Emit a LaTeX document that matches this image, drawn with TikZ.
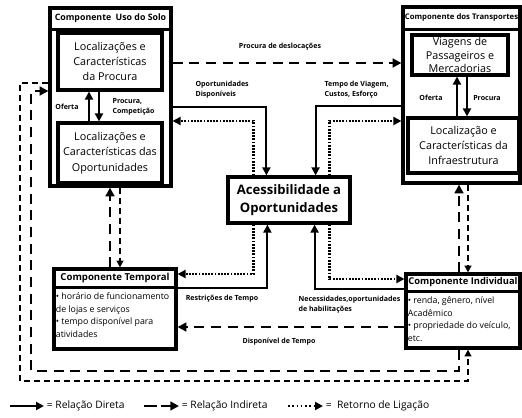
\documentclass[tikz,border=0pt]{standalone}
\usepackage{fontspec}
\setmainfont{Open Sans}
\usetikzlibrary{arrows.meta,calc}

\begin{document}
\begin{tikzpicture}[
  x=0.75pt, y=-0.75pt,
  font=\fontsize{8.1}{11.4}\selectfont,
  outerbox/.style={
    rectangle, draw=black, fill=white,
    line width=2.4pt, inner sep=0pt
  },
  innerbox/.style={
    rectangle, draw=black,
    line width=2.4pt, align=center, inner sep=1pt
  },
  titlebox/.style={
    rectangle, draw=black, line width=1.6pt, inner sep=0pt,
    font=\bfseries\fontsize{6.6}{7.5}\selectfont
  },
  hub/.style={
    rectangle, draw=black, fill=white,
    line width=2.4pt, align=center,
    font=\bfseries\fontsize{9.8}{14}\selectfont
  },
  bodytext/.style={align=left, inner sep=2pt, font=\fontsize{6.6}{9.4}\selectfont},
  lbl/.style={align=left, inner sep=1pt, font=\bfseries\fontsize{5.3}{7.6}\selectfont},
  keytext/.style={anchor=west, inner sep=2pt, font=\fontsize{7.7}{9}\selectfont},
  dir/.style={-{Triangle[length=6pt,width=6pt]}, line width=1.6pt},
  indir/.style={-{Triangle[length=6.5pt,width=6.5pt]}, line width=2.2pt, dash pattern=on 7.5pt off 5pt},
  thinind/.style={-{Triangle[length=5pt,width=5pt]}, line width=1.2pt, dash pattern=on 4.5pt off 3pt},
  ret/.style={-{Triangle[length=6pt,width=6pt]}, line width=1.8pt, dash pattern=on 1.4pt off 1pt}
]
\fill[white] (0,0) rectangle (522,418);

\node[outerbox, minimum width=121*0.75pt, minimum height=178*0.75pt] (lu) at (110.5,97) {};
\node[titlebox, minimum width=121*0.75pt, minimum height=22*0.75pt, anchor=north] (luT) at (lu.north)
  {Componente\enspace Uso do Solo};
\node[innerbox, minimum width=104*0.75pt, minimum height=57*0.75pt] (dem) at (110,61.5)
  {Localizações e\\Características\\da Procura};
\node[innerbox, minimum width=104*0.75pt, minimum height=60*0.75pt] (opp) at (110,153)
  {Localizações e\\Características das\\Oportunidades};

\node[outerbox, minimum width=117*0.75pt, minimum height=176*0.75pt] (tr) at (461.5,95) {};
\node[titlebox, minimum width=117*0.75pt, minimum height=23*0.75pt, anchor=north,
  font=\bfseries\fontsize{5.8}{7}\selectfont] (trT) at (tr.north)
  {Componente dos Transportes};
\node[innerbox, minimum width=96*0.75pt, minimum height=40*0.75pt, font=\fontsize{8.1}{9.8}\selectfont] (trips) at (460,55)
  {Viagens de\\Passageiros e\\Mercadorias};
\node[innerbox, minimum width=111*0.75pt, minimum height=55*0.75pt] (infra) at (463.5,145.5)
  {Localização e\\Características da\\Infraestrutura};

\node[hub, minimum width=122*0.75pt, minimum height=46*0.75pt] (acc) at (289,200)
  {Acessibilidade a\\Oportunidades};

\node[outerbox, minimum width=122*0.75pt, minimum height=80*0.75pt] (tem) at (115,309) {};
\node[titlebox, minimum width=122*0.75pt, minimum height=19*0.75pt, anchor=north,
  font=\bfseries\fontsize{7.2}{8}\selectfont] (temT) at (tem.north) {Componente Temporal};
\node[bodytext, anchor=north west] (temB) at ([yshift=-1pt]temT.south west)
  {• horário de funcionamento\\de lojas e serviços\\• tempo disponível para\\atividades};

\node[outerbox, minimum width=114*0.75pt, minimum height=74*0.75pt] (ind) at (463,311) {};
\node[titlebox, minimum width=114*0.75pt, minimum height=18*0.75pt, anchor=north,
  font=\bfseries\fontsize{7}{8}\selectfont] (indT) at (ind.north) {Componente Individual};
\node[bodytext, anchor=north west] (indB) at ([yshift=-1pt]indT.south west)
  {• renda, gênero, nível\\Acadêmico\\• propriedade do veículo,\\etc.};

\draw[dir, line width=2.2pt] (opp.north -| 89,0) -- (dem.south -| 89,0);
\draw[dir] (dem.south -| 99,0) -- (opp.north -| 99,0);
\node[lbl] (luOf) at (67,107) {Oferta};
\node[lbl, anchor=west] (luPr) at (111,107) {Procura,\\Competição};

\draw[dir, line width=2.2pt] (infra.north -| 457,0) -- (trips.south -| 457,0);
\draw[dir] (trips.south -| 467,0) -- (infra.north -| 467,0);
\node[lbl] (trOf) at (431,98) {Oferta};
\node[lbl] (trPr) at (487,98) {Procura};

\draw[indir] (lu.east |- 0,63) -- (tr.west |- 0,63);
\node[lbl] (pdesl) at (280,47) {Procura de deslocações};

\draw[dir] (lu.east |- 0,107) -| ($(acc.north west)+(40,0)$);
\draw[ret] ($(acc.north west)+(27,0)$) |- (lu.east |- 0,121);
\node[lbl, anchor=west] (opdisp) at (194,90) {Oportunidades\\Disponíveis};

\draw[dir] (tr.west |- 0,106) -| ($(acc.north east)+(-36,0)$);
\draw[ret] ($(acc.north east)+(-22,0)$) |- (tr.west |- 0,121);
\node[lbl, anchor=west] (tvce) at (323,90) {Tempo de Viagem,\\Custos, Esforço};

\draw[ret] ($(acc.south west)+(27,0)$) |- (tem.east |- 0,274);
\draw[dir] (tem.east |- 0,288) -| ($(acc.south west)+(41,0)$);
\node[lbl] (restr) at (222,299) {Restrições de Tempo};

\draw[dir] (ind.west |- 0,289) -| ($(acc.south east)+(-37,0)$);
\draw[ret] ($(acc.south east)+(-22,0)$) |- (ind.west |- 0,279);
\node[lbl, anchor=west] (needs) at (297,305) {Necessidades,oportunidades\\de habilitações};

\draw[indir] (ind.west |- 0,327) -- (tem.east |- 0,327);
\node[lbl] (dispT) at (279,342) {Disponível de Tempo};

\draw[indir] (tem.north -| 110,0) -- (lu.south -| 110,0);
\draw[thinind] (lu.south -| 120,0) -- (tem.north -| 120,0);
\draw[indir] (ind.north -| 459,0) -- (tr.south -| 459,0);
\draw[thinind] (tr.south -| 468,0) -- (ind.north -| 468,0);

\draw[indir] (ind.south -| 459,0) -- (459,371) -| (31,91) -- (lu.west |- 0,91);
\draw[thinind] (lu.west |- 0,83) -| (20,381) -| (ind.south -| 468,0);

\coordinate (k1a) at (10,406);
\coordinate (k1b) at (44,406);
\draw[dir] (k1a) -- (k1b);
\node[keytext] (k1) at (k1b) {= Relação Direta};
\coordinate (k2a) at (144,406);
\coordinate (k2b) at (179,406);
\draw[indir, dash pattern=on 9.5pt off 3.5pt on 30pt] (k2a) -- (k2b);
\node[keytext] (k2) at (k2b) {= Relação Indireta};
\coordinate (k3a) at (288,406);
\coordinate (k3b) at (323,406);
\draw[ret, line width=1.5pt, dash pattern=on 1.2pt off 2pt] (k3a) -- (k3b);
\node[keytext] (k3) at (k3b) {= \ Retorno de Ligação};
\end{tikzpicture}
\end{document}
